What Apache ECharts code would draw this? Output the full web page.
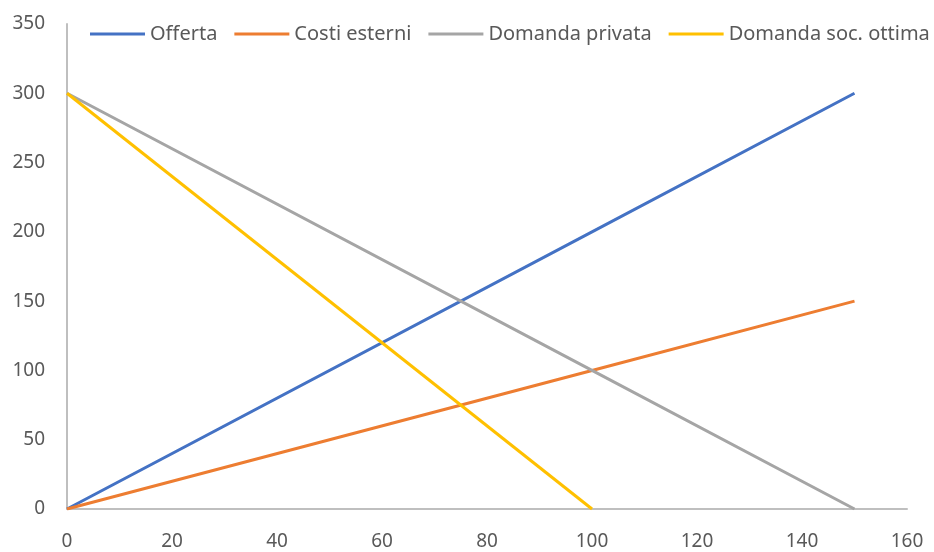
<!DOCTYPE html>
<html>
<head>
<meta charset="utf-8">
<script src="https://cdn.jsdelivr.net/npm/echarts@6/dist/echarts.min.js"></script>
<style>
  html, body { margin: 0; padding: 0; background: #fff; }
  #chart { width: 934px; height: 552px; }
</style>
</head>
<body>
<div id="chart"></div>
<script>
// quantity on the x axis
const quantity = [0, 100, 150]
const offerta = [0, 200, 300]
const costiEsterni = [0, 100, 150]
const domandaPrivata = [300, 100, 0]
const domandaSocOttima = [300, 0, null]

const seriesNames = ['Offerta', 'Costi esterni', 'Domanda privata', 'Domanda soc. ottima']
const seriesColors = ['#4472C4', '#ED7D31', '#A5A5A5', '#FFC000']
const seriesValues = [offerta, costiEsterni, domandaPrivata, domandaSocOttima]

const chart = echarts.init(document.getElementById('chart'))

const fontFamily = 'Noto Sans'
const textColor = '#595959'

chart.setOption({
  backgroundColor: '#fff',
  animation: false,
  legend: {
    top: 24,
    left: 90,
    right: 0,
    padding: 0,
    itemWidth: 55,
    itemHeight: 3,
    itemGap: 17,
    icon: 'rect',
    textStyle: { color: textColor, fontSize: 20, fontFamily }
  },
  grid: { left: 67, right: 27, top: 24, bottom: 43 },
  xAxis: {
    type: 'value',
    min: 0,
    max: 160,
    interval: 20,
    axisLine: { lineStyle: { color: '#BFBFBF', width: 2 } },
    axisTick: { show: false },
    splitLine: { show: false },
    axisLabel: { color: textColor, fontSize: 19, fontFamily, margin: 23 }
  },
  yAxis: {
    type: 'value',
    min: 0,
    max: 350,
    interval: 50,
    axisLine: { show: true, lineStyle: { color: '#BFBFBF', width: 2 } },
    axisTick: { show: false },
    splitLine: { show: false },
    axisLabel: { color: textColor, fontSize: 19, fontFamily, margin: 22 }
  },
  series: seriesNames.map((name, i) => ({
    name,
    type: 'line',
    showSymbol: false,
    symbol: 'none',
    color: seriesColors[i],
    lineStyle: { width: 3, color: seriesColors[i] },
    data: quantity.map((q, j) => [q, seriesValues[i][j]]).filter((p) => p[1] !== null)
  }))
})
</script>
</body>
</html>
